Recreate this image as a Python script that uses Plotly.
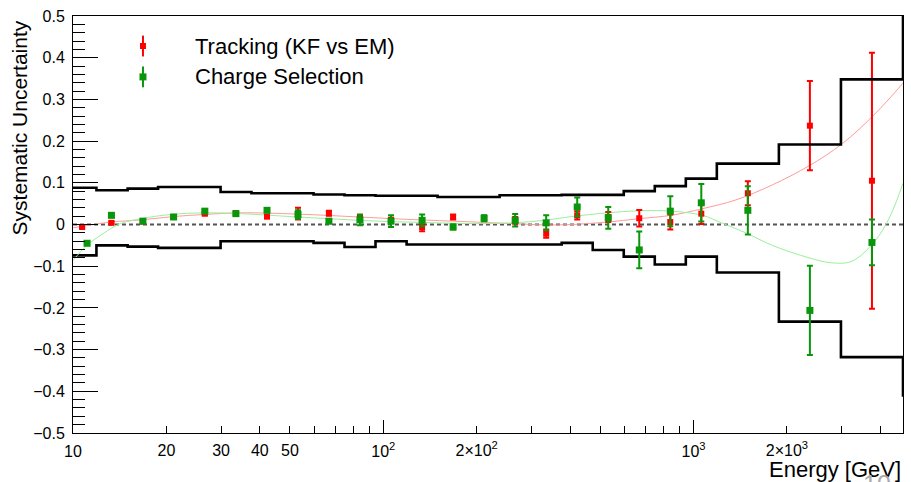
import plotly.graph_objects as go

# ---------------- data ----------------
# bin centres of the measurement points [GeV]
energy_trk = [10.7, 13.3, 16.8, 21.1, 26.6, 33.5, 42.2, 53.1, 66.8, 84.1, 105.9,
              133.4, 167.9, 211.3, 266.1, 335.0, 421.7, 530.9, 668.3, 841.4,
              1059.0, 1496.0, 2371.0, 3758.0]
energy_chg = [11.1, 13.3, 16.8, 21.1, 26.6, 33.5, 42.2, 53.1, 66.8, 84.1, 105.9,
              133.4, 167.9, 211.3, 266.1, 335.0, 421.7, 530.9, 668.3, 841.4,
              1059.0, 1496.0, 2371.0, 3758.0]

tracking = [-0.006, 0.004, 0.007, 0.018, 0.026, 0.027, 0.019, 0.026, 0.027, 0.017,
            0.010, -0.006, 0.018, 0.015, 0.010, -0.022, 0.022, 0.018, 0.015, 0.006,
            0.026, 0.075, 0.237, 0.105]
tracking_err = [0.003, 0.003, 0.003, 0.003, 0.004, 0.004, 0.004, 0.014, 0.006, 0.006,
                0.006, 0.010, 0.006, 0.006, 0.008, 0.010, 0.010, 0.012, 0.020, 0.018,
                0.025, 0.029, 0.107, 0.307]

charge = [-0.045, 0.022, 0.008, 0.018, 0.032, 0.026, 0.034, 0.024, 0.008, 0.011,
          0.008, 0.010, -0.006, 0.015, 0.010, 0.004, 0.042, 0.016, -0.061, 0.032,
          0.052, 0.034, -0.206, -0.043]
charge_err = [0.004, 0.003, 0.003, 0.003, 0.004, 0.004, 0.004, 0.010, 0.005, 0.013,
              0.014, 0.014, 0.006, 0.007, 0.015, 0.018, 0.023, 0.026, 0.044, 0.036,
              0.045, 0.058, 0.107, 0.055]

# total systematic band (histogram bin edges and contents, last entry = overflow)
band_edges = [10.0, 11.9, 15.0, 18.8, 29.9, 37.6, 59.6, 75.0, 94.4, 118.9, 149.6,
              237.1, 375.8, 473.2, 595.7, 749.9, 944.1, 1188.5, 1883.6, 2985.4, 4731.5]
band_upper = [0.088, 0.082, 0.086, 0.090, 0.078, 0.075, 0.072, 0.070, 0.069, 0.069,
              0.066, 0.070, 0.071, 0.071, 0.080, 0.092, 0.110, 0.146, 0.192, 0.348, 0.60]
band_lower = [-0.074, -0.050, -0.053, -0.056, -0.040, -0.040, -0.044, -0.054, -0.040,
              -0.048, -0.048, -0.048, -0.044, -0.061, -0.077, -0.096, -0.077, -0.115,
              -0.233, -0.318, -0.413]

# smooth fit curves
fit_trk_e = [10, 13.3, 16.6, 21.0, 26.5, 34.6, 52.9, 83.3, 114, 168, 264, 335, 404,
             530, 668, 847, 1069, 1370, 1794, 2360, 3018, 3840, 4732]
fit_trk_v = [-0.008, 0.006, 0.011, 0.019, 0.024, 0.028, 0.025, 0.018, 0.013, 0.008,
             0.002, -0.001, 0.0, 0.006, 0.014, 0.022, 0.038, 0.059, 0.095, 0.141,
             0.194, 0.265, 0.339]
fit_chg_e = [10, 11.1, 12.5, 14.2, 16.6, 20.6, 26.3, 34.6, 52.9, 66.6, 83.3, 105,
             132, 168, 211, 264, 330, 404, 530, 668, 847, 1069, 1230, 1473, 1794,
             2360, 2790, 3240, 3840, 4300, 4732]
fit_chg_v = [-0.086, -0.050, -0.022, 0.002, 0.014, 0.024, 0.028, 0.026, 0.018, 0.014,
             0.010, 0.007, 0.005, 0.003, 0.002, 0.004, 0.010, 0.019, 0.028, 0.033,
             0.032, 0.022, 0.004, -0.020, -0.050, -0.080, -0.092, -0.088, -0.040,
             0.020, 0.099]

major_ticks = [10, 100, 1000]
major_text = ["10", "10<sup>2</sup>", "10<sup>3</sup>"]
minor_ticks = [20, 30, 40, 50, 60, 70, 80, 90, 200, 300, 400, 500, 600, 700, 800,
               900, 2000, 3000, 4000]
label_ticks = [20, 30, 40, 50, 200, 2000]
label_text = ["20", "30", "40", "50", "2\u00d710<sup>2</sup>", "2\u00d710<sup>3</sup>"]

RED = "#ff0000"
GREEN = "#0a960a"
FONT = "Liberation Sans, Arial, Helvetica, sans-serif"
XR = [1.0, 3.675]

fig = go.Figure()

# systematic band (upper edge is placed on the overlaid label axis, same range)
fig.add_trace(go.Scatter(x=band_edges, y=band_upper, mode="lines", xaxis="x2",
                         line=dict(color="black", width=2.6, shape="hv"),
                         showlegend=False, hoverinfo="skip"))
fig.add_trace(go.Scatter(x=band_edges, y=band_lower, mode="lines",
                         line=dict(color="black", width=2.6, shape="hv"),
                         showlegend=False, hoverinfo="skip"))

# fits
fig.add_trace(go.Scatter(x=fit_trk_e, y=fit_trk_v, mode="lines",
                         line=dict(color="#ff9a9a", width=1, shape="spline"),
                         showlegend=False, hoverinfo="skip"))
fig.add_trace(go.Scatter(x=fit_chg_e, y=fit_chg_v, mode="lines",
                         line=dict(color="#9af09a", width=1, shape="spline"),
                         showlegend=False, hoverinfo="skip"))

# measurement points
fig.add_trace(go.Scatter(x=energy_trk, y=tracking, mode="markers",
                         marker=dict(symbol="square", size=6, color=RED),
                         error_y=dict(type="data", array=tracking_err, color=RED,
                                      thickness=2, width=3),
                         name="Tracking (KF vs EM)", showlegend=False))
fig.add_trace(go.Scatter(x=energy_chg, y=charge, mode="markers",
                         marker=dict(symbol="square", size=7, color=GREEN),
                         error_y=dict(type="data", array=charge_err, color=GREEN,
                                      thickness=2, width=3),
                         name="Charge Selection", showlegend=False))

# dashed zero line
fig.add_shape(type="line", xref="paper", x0=0, x1=1, yref="y", y0=0, y1=0,
              line=dict(color="#555555", width=2, dash="4px,3px"), layer="below")

# legend (drawn by hand: marker with vertical error bar)
legend_rows = [(0.928, RED, "Tracking (KF vs EM)", 3),
               (0.854, GREEN, "Charge Selection", 3.5)]
lx = 0.0843
for ly, col, txt, half in legend_rows:
    fig.add_shape(type="line", xref="paper", yref="paper", x0=lx, x1=lx,
                  y0=ly - 0.025, y1=ly + 0.025, line=dict(color=col, width=2))
    fig.add_shape(type="rect", xref="paper", yref="paper",
                  x0=lx - half / 830, x1=lx + half / 830,
                  y0=ly - half / 417, y1=ly + half / 417,
                  line=dict(width=0), fillcolor=col)
    fig.add_annotation(text=txt, xref="paper", yref="paper", x=0.1446, y=ly,
                       xanchor="left", yanchor="middle", showarrow=False,
                       font=dict(family=FONT, size=22, color="black"))

# axis titles
fig.add_annotation(text="Systematic Uncertainty", xref="paper", yref="paper",
                   x=-0.064, y=0.995, textangle=-90, xanchor="center",
                   yanchor="top", showarrow=False,
                   font=dict(family=FONT, size=21, color="black"))
fig.add_annotation(text="Energy [GeV]", xref="paper", yref="paper",
                   x=1.0, y=-0.053, xanchor="right", yanchor="top",
                   showarrow=False, font=dict(family=FONT, size=22, color="black"))
fig.add_annotation(text="10", xref="paper", yref="paper",
                   x=0.988, y=-0.085, xanchor="right", yanchor="top",
                   showarrow=False, font=dict(family=FONT, size=25, color="#aaaaaa"))

fig.update_layout(
    width=911, height=482,
    margin=dict(l=73, r=8, t=16, b=49),
    paper_bgcolor="white", plot_bgcolor="white",
    font=dict(family=FONT, size=16, color="black"),
    showlegend=False,
    xaxis=dict(type="log", range=XR, showgrid=False, zeroline=False,
               showline=True, linecolor="black", linewidth=1, mirror=True,
               ticks="inside", ticklen=13, tickcolor="black", tickwidth=1,
               tickmode="array", tickvals=major_ticks, ticktext=major_text,
               ticklabelstandoff=4,
               tickfont=dict(family=FONT, size=16),
               minor=dict(ticks="inside", ticklen=7, tickcolor="black",
                          tickwidth=1, tickmode="array", tickvals=minor_ticks,
                          showgrid=False)),
    xaxis2=dict(type="log", range=XR, overlaying="x", anchor="y", side="bottom",
                showgrid=False, zeroline=False, showline=False, ticks="",
                tickmode="array", tickvals=label_ticks, ticktext=label_text,
                ticklabelstandoff=6,
                tickfont=dict(family=FONT, size=16)),
    yaxis=dict(range=[-0.5, 0.5], showgrid=False, zeroline=False,
               showline=True, linecolor="black", linewidth=1, mirror=True,
               ticks="inside", ticklen=25, tickcolor="black", tickwidth=1,
               dtick=0.1, tick0=0, ticklabelstandoff=4,
               tickfont=dict(family=FONT, size=16),
               minor=dict(ticks="inside", ticklen=12, tickcolor="black",
                          tickwidth=1, dtick=0.02, showgrid=False)),
)

fig.write_html("out.html")
